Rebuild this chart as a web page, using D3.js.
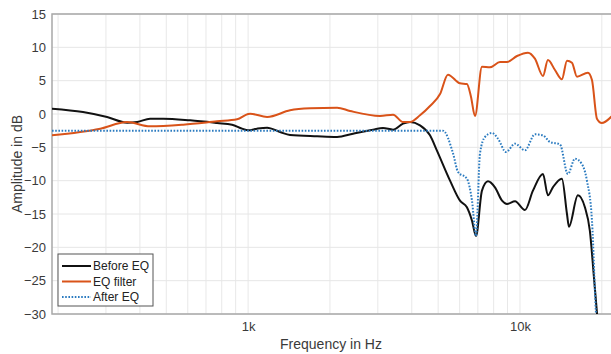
<!DOCTYPE html>
<html>
<head>
<meta charset="utf-8">
<script src="https://cdn.jsdelivr.net/npm/d3@7"></script>
<style>
  body { margin: 0; background: #fff; }
  svg { display: block; font-family: "Liberation Sans", Arial, sans-serif; }
</style>
</head>
<body>
<svg width="611" height="354"></svg>
<script>
// DATA

var beforeFreq = [190, 247, 303, 359, 391, 436, 487, 612, 769, 873, 950, 1000, 1079, 1175, 1311, 1427, 1794, 2125, 2432, 2881, 3135, 3414, 3715, 3941, 4288, 4667, 4950, 5530, 6016, 6380, 6660, 6890, 7247, 7625, 8091, 8590, 8958, 9589, 10430, 11160, 12150, 12670, 13210, 14260, 14890, 15140, 16330, 17330, 18070, 18710, 19190, 19400];
var beforeDb   = [0.8, 0.3, -0.45, -1.3, -1.2, -0.7, -0.7, -0.95, -1.35, -1.6, -2.2, -2.45, -2.2, -2.05, -2.7, -3.15, -3.35, -3.45, -2.95, -2.35, -2.1, -2.35, -1.45, -1.2, -1.7, -3.2, -5.5, -10, -13, -14, -16, -18.3, -11.5, -10.1, -11.0, -13, -13.5, -13.1, -14.4, -11.5, -9.0, -12.2, -11.0, -9.7, -15, -16.9, -12.2, -14, -17.5, -24.5, -29.8, -32];

var filterFreq = [190, 286, 359, 436, 577, 769, 911, 1000, 1017, 1175, 1427, 1690, 2125, 2371, 3057, 3414, 3715, 3941, 4288, 4667, 5082, 5433, 6016, 6380, 6603, 6832, 7247, 7756, 8443, 8958, 9752, 10700, 11350, 12150, 12670, 13450, 14260, 14890, 15530, 16200, 17780, 18400, 19190, 20000, 21800];
var filterDb   = [-3.2, -2.2, -1.2, -1.85, -1.6, -1.1, -0.8, 0.0, 0.05, -0.45, 0.55, 0.85, 0.95, 0.45, -0.3, -0.1, -1.2, -1.2, -0.2, 1.2, 3.0, 5.9, 4.6, 4.5, 2.6, -0.3, 7.1, 7.0, 7.8, 7.8, 8.7, 9.2, 8.3, 5.7, 8.1, 6.6, 5.2, 8.0, 7.7, 5.6, 6.2, 5.1, -0.7, -1.35, -0.3];

var afterFreq = [190, 1000, 4950, 5209, 5672, 5919, 6380, 6660, 6890, 7128, 7432, 7888, 8300, 8883, 9589, 10430, 11350, 12150, 12890, 14030, 15000, 15930, 16890, 17630, 18400, 19020, 19200];
var afterDb   = [-2.5, -2.5, -2.5, -2.5, -5.9, -8.7, -9.7, -13, -18.3, -5.9, -3.45, -2.85, -3.7, -5.7, -4.45, -5.45, -3.05, -3.2, -4.2, -4.55, -9.0, -6.7, -7.5, -10, -16, -29.6, -32];

var seriesNames = ["Before EQ", "EQ filter", "After EQ"];
var yTicks = [15, 10, 5, 0, -5, -10, -15, -20, -25, -30];
var xTicks = [1000, 10000];
var xTickLabels = ["1k", "10k"];
var xMinor = [200, 300, 400, 500, 600, 700, 800, 900, 2000, 3000, 4000, 5000, 6000, 7000, 8000, 9000, 20000];

// SETUP

var svg = d3.select("svg"),
    margin = { top: 14, right: -1, bottom: 40, left: 52 },
    width = 611 - margin.left - margin.right,
    height = 354 - margin.top - margin.bottom;

var x = d3.scaleLog().domain([190, 21800]).range([0, width]),
    y = d3.scaleLinear().domain([-30, 15]).range([height, 0]);

var g = svg.append("g")
    .attr("transform", "translate(" + margin.left + "," + margin.top + ")");

g.append("defs").append("clipPath").attr("id", "clip")
  .append("rect").attr("width", width).attr("height", height);

// grid
g.selectAll(".vgrid")
  .data(xMinor.concat(xTicks))
  .enter().append("line")
  .attr("x1", function (d) { return x(d); })
  .attr("x2", function (d) { return x(d); })
  .attr("y1", 0).attr("y2", height)
  .attr("stroke", "#e8e8e8").attr("stroke-width", 1);

g.selectAll(".hgrid")
  .data(yTicks)
  .enter().append("line")
  .attr("x1", 0).attr("x2", width)
  .attr("y1", function (d) { return y(d); })
  .attr("y2", function (d) { return y(d); })
  .attr("stroke", "#e6e6e6").attr("stroke-width", 1);

// box
g.append("rect")
  .attr("width", width).attr("height", height)
  .attr("fill", "none").attr("stroke", "#a8a8a8").attr("stroke-width", 1.5);

// axes
var yAxis = g.append("g")
  .call(d3.axisLeft(y).tickValues(yTicks).tickSize(0).tickPadding(6));
yAxis.select(".domain").remove();
yAxis.selectAll("text").attr("font-size", 13).attr("fill", "#3a3a3a")
  .attr("font-family", "Liberation Sans, Arial, sans-serif");

var xAxis = g.append("g")
  .attr("transform", "translate(0," + height + ")")
  .call(d3.axisBottom(x).tickValues(xTicks).tickSize(0).tickPadding(8)
    .tickFormat(function (d, i) { return xTickLabels[i]; }));
xAxis.select(".domain").remove();
xAxis.selectAll("text").attr("font-size", 13).attr("fill", "#3a3a3a")
  .attr("font-family", "Liberation Sans, Arial, sans-serif");

svg.append("text")
  .attr("x", 331).attr("y", 349)
  .attr("text-anchor", "middle")
  .attr("font-size", 14).attr("fill", "#3a3a3a")
  .text("Frequency in Hz");

svg.append("text")
  .attr("transform", "translate(22," + (margin.top + height / 2) + ") rotate(-90)")
  .attr("text-anchor", "middle")
  .attr("font-size", 14).attr("fill", "#3a3a3a")
  .text("Amplitude in dB");

// LINES

var line = d3.line()
  .x(function (d) { return x(d[0]); })
  .y(function (d) { return y(d[1]); })
  .curve(d3.curveMonotoneX);

function zip(f, v) { return f.map(function (d, i) { return [d, v[i]]; }); }

var series = [
  { name: seriesNames[0], pts: zip(beforeFreq, beforeDb), color: "#111111", dash: null },
  { name: seriesNames[1], pts: zip(filterFreq, filterDb), color: "#D95319", dash: null },
  { name: seriesNames[2], pts: zip(afterFreq, afterDb), color: "#2B7BC0", dash: "1.6,1.6" }
];

var plot = g.append("g").attr("clip-path", "url(#clip)");
plot.selectAll(".curve")
  .data(series)
  .enter().append("path")
  .attr("class", "curve")
  .attr("d", function (d) { return line(d.pts); })
  .attr("fill", "none")
  .attr("stroke", function (d) { return d.color; })
  .attr("stroke-width", 2)
  .attr("stroke-dasharray", function (d) { return d.dash; });

// LEGEND

var leg = svg.append("g").attr("transform", "translate(58,254)");
leg.append("rect")
  .attr("width", 95).attr("height", 52)
  .attr("fill", "#fff").attr("stroke", "#555").attr("stroke-width", 1);

var item = leg.selectAll(".item")
  .data(series)
  .enter().append("g")
  .attr("transform", function (d, i) { return "translate(0," + (12 + i * 15.5) + ")"; });
item.append("line")
  .attr("x1", 4).attr("x2", 33)
  .attr("stroke", function (d) { return d.color; })
  .attr("stroke-width", 2)
  .attr("stroke-dasharray", function (d) { return d.dash; });
item.append("text")
  .attr("x", 35).attr("dy", "0.35em")
  .attr("font-size", 12).attr("fill", "#222")
  .text(function (d) { return d.name; });
</script>
</body>
</html>
